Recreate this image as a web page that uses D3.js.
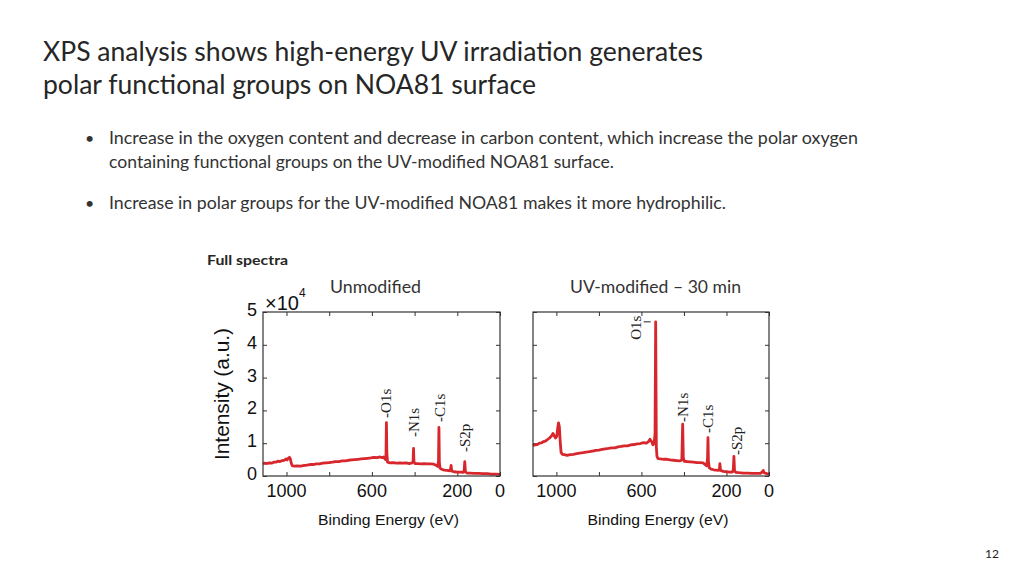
<!DOCTYPE html>
<html>
<head>
<meta charset="utf-8">
<script src="https://cdn.jsdelivr.net/npm/d3@7"></script>
<style>
  body { margin: 0; background: #fff; }
  svg { display: block; }
  .sans { font-family: Lato, "Open Sans", sans-serif; fill: #333; }
  .arial { font-family: "Liberation Sans", Arial, sans-serif; fill: #111; }
  .peak { font-family: "Liberation Serif", "DejaVu Serif", serif; fill: #222; }
</style>
</head>
<body>
<svg id="svg" width="1024" height="576"></svg>
<script>
// spectra: [binding energy (eV), intensity x 10^4]
var unmodified = [
  [1110,0.37],[1100,0.39],[1090,0.38],[1080,0.40],[1070,0.39],[1060,0.42],[1050,0.42],[1040,0.45],
  [1030,0.44],[1020,0.47],[1010,0.48],[1003,0.52],[997,0.49],[992,0.54],[986,0.57],[982,0.52],
  [977,0.38],[972,0.31],[962,0.30],[950,0.31],[935,0.30],[920,0.32],[905,0.33],[890,0.35],
  [875,0.35],[860,0.37],[845,0.37],[830,0.39],[815,0.40],[800,0.41],[785,0.42],[770,0.44],
  [755,0.44],[740,0.46],[725,0.46],[710,0.48],[695,0.49],[680,0.50],[665,0.51],[650,0.52],
  [635,0.53],[620,0.54],[605,0.55],[590,0.57],[575,0.56],[562,0.58],[552,0.56],[545,0.58],
  [540,0.53],[536,0.50],[534,0.62],[532,1.63],[530,0.72],[527,0.42],[515,0.40],[500,0.41],
  [485,0.39],[470,0.40],[455,0.39],[440,0.40],[425,0.38],[412,0.40],[407,0.44],[405,0.84],
  [403,0.44],[398,0.38],[385,0.38],[370,0.37],[355,0.38],[340,0.37],[325,0.37],[310,0.36],
  [300,0.33],[292,0.29],[288,0.45],[286,1.48],[284,0.42],[281,0.24],[272,0.20],[260,0.18],
  [248,0.17],[236,0.16],[232,0.20],[229,0.32],[226,0.15],[215,0.13],[200,0.12],[185,0.12],
  [172,0.11],[168,0.16],[165,0.44],[162,0.13],[155,0.09],[140,0.09],[120,0.08],[100,0.08],
  [80,0.07],[60,0.07],[40,0.06],[20,0.06],[0,0.05]
];

var uvModified = [
  [1110,0.92],[1100,0.95],[1090,0.96],[1080,1.00],[1070,1.01],[1060,1.05],[1050,1.07],[1040,1.12],
  [1030,1.17],[1022,1.23],[1016,1.30],[1010,1.22],[1004,1.16],[998,1.21],[994,1.45],[990,1.62],
  [986,1.50],[982,1.05],[978,0.72],[972,0.66],[962,0.65],[950,0.63],[935,0.65],[920,0.66],
  [905,0.68],[890,0.70],[875,0.71],[860,0.73],[845,0.74],[830,0.76],[815,0.78],[800,0.79],
  [785,0.81],[770,0.83],[755,0.84],[740,0.86],[725,0.86],[710,0.89],[695,0.90],[680,0.92],
  [665,0.92],[650,0.95],[635,0.96],[620,0.98],[605,0.99],[590,1.02],[578,1.00],[568,1.04],
  [560,1.12],[553,1.06],[546,0.95],[540,1.00],[536,1.30],[533,4.70],[530,0.90],[527,0.60],
  [522,0.53],[510,0.52],[495,0.51],[480,0.51],[465,0.49],[450,0.48],[435,0.47],[420,0.46],
  [410,0.49],[406,1.58],[403,0.55],[398,0.45],[385,0.44],[370,0.43],[355,0.42],[340,0.41],
  [325,0.41],[310,0.40],[300,0.35],[293,0.31],[289,0.55],[287,1.17],[285,0.45],[281,0.25],
  [272,0.21],[260,0.19],[248,0.18],[236,0.17],[233,0.21],[231,0.38],[228,0.17],[215,0.14],
  [200,0.13],[185,0.12],[173,0.12],[168,0.19],[165,0.60],[162,0.15],[155,0.11],[140,0.10],
  [120,0.09],[100,0.09],[80,0.08],[60,0.08],[40,0.08],[31,0.13],[27,0.17],[24,0.10],
  [10,0.07],[0,0.06]
];

// peak labels: [text, energy, intensity where the label starts]
var unmodLabels = [["-O1s", 532, 1.77], ["-N1s", 405, 1.19], ["-C1s", 283, 1.65], ["-S2p", 164, 0.73]];
var uvLabels = [["-N1s", 406, 1.65], ["-C1s", 287, 1.31], ["-S2p", 152, 0.64]];

var xTicks = [1000, 800, 600, 400, 200, 0];
var xLabelled = [1000, 600, 200, 0];
var yTicks = [0, 1, 2, 3, 4, 5];

var titleLines = ["XPS analysis shows high-energy UV irradiation generates",
                  "polar functional groups on NOA81 surface"];
var bullets = [
  ["Increase in the oxygen content and decrease in carbon content, which increase the polar oxygen",
   "containing functional groups on the UV-modified NOA81 surface."],
  ["Increase in polar groups for the UV-modified NOA81 makes it more hydrophilic."]
];

var svg = d3.select("#svg");
var red = "#d7262c";

function addText(x, y, str, cls, size, len, weight) {
  var t = svg.append("text").attr("class", cls).attr("x", x).attr("y", y)
    .style("font-size", size + "px").text(str);
  if (len) t.attr("textLength", len).attr("lengthAdjust", "spacingAndGlyphs");
  if (weight) t.style("font-weight", weight);
  return t;
}

// slide text
addText(43, 61, titleLines[0], "sans", 26, 660).style("fill", "#262626");
addText(43, 94, titleLines[1], "sans", 26, 493).style("fill", "#262626");
addText(85, 144, "\u2022", "sans", 16);
addText(109, 144, bullets[0][0], "sans", 16.5, 749);
addText(109, 168, bullets[0][1], "sans", 16.5, 505);
addText(85, 209, "\u2022", "sans", 16);
addText(109, 209, bullets[1][0], "sans", 16.5, 617);
addText(207, 265, "Full spectra", "sans", 14, 81, "bold").style("fill", "#262626");
addText(330, 293, "Unmodified", "sans", 16.5, 91);
addText(570, 293, "UV-modified \u2013 30 min", "sans", 16.5, 171);
addText(985, 558, "12", "sans", 12).style("fill", "#222");

function drawPanel(x0, x1, data, labels, showY) {
  var top = 312, bottom = 476;
  var x = d3.scaleLinear().domain([1110, 0]).range([x0, x1]);
  var y = d3.scaleLinear().domain([0, 5]).range([bottom, top]);
  var g = svg.append("g");

  // inward ticks on all four sides, MATLAB style
  var tickColor = "#333";
  g.append("g").attr("transform", "translate(0," + bottom + ")")
    .call(d3.axisBottom(x).tickValues(xTicks).tickSizeInner(-4).tickSizeOuter(0).tickFormat(""))
    .call(function (a) { a.select(".domain").remove(); a.selectAll("line").attr("stroke", tickColor); });
  g.append("g").attr("transform", "translate(0," + top + ")")
    .call(d3.axisTop(x).tickValues(xTicks).tickSizeInner(-4).tickSizeOuter(0).tickFormat(""))
    .call(function (a) { a.select(".domain").remove(); a.selectAll("line").attr("stroke", tickColor); });
  g.append("g").attr("transform", "translate(" + x0 + ",0)")
    .call(d3.axisLeft(y).tickValues(yTicks).tickSizeInner(-4).tickSizeOuter(0).tickFormat(""))
    .call(function (a) { a.select(".domain").remove(); a.selectAll("line").attr("stroke", tickColor); });
  g.append("g").attr("transform", "translate(" + x1 + ",0)")
    .call(d3.axisRight(y).tickValues(yTicks).tickSizeInner(-4).tickSizeOuter(0).tickFormat(""))
    .call(function (a) { a.select(".domain").remove(); a.selectAll("line").attr("stroke", tickColor); });

  var line = d3.line().x(function (d) { return x(d[0]); }).y(function (d) { return y(d[1]); });
  g.append("path").datum(data).attr("d", line)
    .attr("fill", "none").attr("stroke", red).attr("stroke-width", 2.8)
    .attr("stroke-linejoin", "round");

  g.append("rect").attr("x", x0).attr("y", top).attr("width", x1 - x0).attr("height", bottom - top)
    .attr("fill", "none").attr("stroke", "#333").attr("stroke-width", 1.2);

  // tick labels
  xLabelled.forEach(function (v) {
    g.append("text").attr("class", "arial").attr("x", x(v)).attr("y", 497)
      .attr("text-anchor", "middle").style("font-size", "18px").text(v);
  });
  if (showY) {
    yTicks.forEach(function (v) {
      g.append("text").attr("class", "arial").attr("x", x0 - 6).attr("y", y(v) + 4)
        .attr("text-anchor", "end").style("font-size", "18px").text(v);
    });
  }
  g.append("text").attr("class", "arial").attr("x", (x0 + x1) / 2 + 7).attr("y", 525)
    .attr("text-anchor", "middle").style("font-size", "15px")
    .attr("textLength", 141).attr("lengthAdjust", "spacingAndGlyphs").text("Binding Energy (eV)");

  labels.forEach(function (l) {
    var px = x(l[1]), py = y(l[2]);
    g.append("text").attr("class", "peak")
      .attr("transform", "translate(" + (px + 5) + "," + py + ") rotate(-90)")
      .style("font-size", "15px").text(l[0]);
  });
  return { x: x, y: y, g: g };
}

var left = drawPanel(263, 500, unmodified, unmodLabels, true);
var right = drawPanel(533, 769, uvModified, uvLabels, false);

// O1s on the UV-modified panel sits beside the peak top
var oTop = right.y(4.70), oX = right.x(533);
right.g.append("text").attr("class", "peak")
  .attr("transform", "translate(" + (oX - 15) + "," + (oTop + 18) + ") rotate(-90)")
  .style("font-size", "15px").text("O1s");
right.g.append("line").attr("x1", oX - 12).attr("x2", oX - 5)
  .attr("y1", oTop).attr("y2", oTop).attr("stroke", "#222").attr("stroke-width", 1);

// exponent and y title
svg.append("text").attr("class", "arial").attr("x", 265).attr("y", 310)
  .style("font-size", "20px").text("\u00d710");
svg.append("text").attr("class", "arial").attr("x", 299).attr("y", 297)
  .style("font-size", "12px").text("4");
svg.append("text").attr("class", "arial")
  .attr("transform", "translate(229,394) rotate(-90)")
  .attr("text-anchor", "middle").style("font-size", "20px")
  .attr("textLength", 132).attr("lengthAdjust", "spacingAndGlyphs").text("Intensity (a.u.)");
</script>
</body>
</html>
